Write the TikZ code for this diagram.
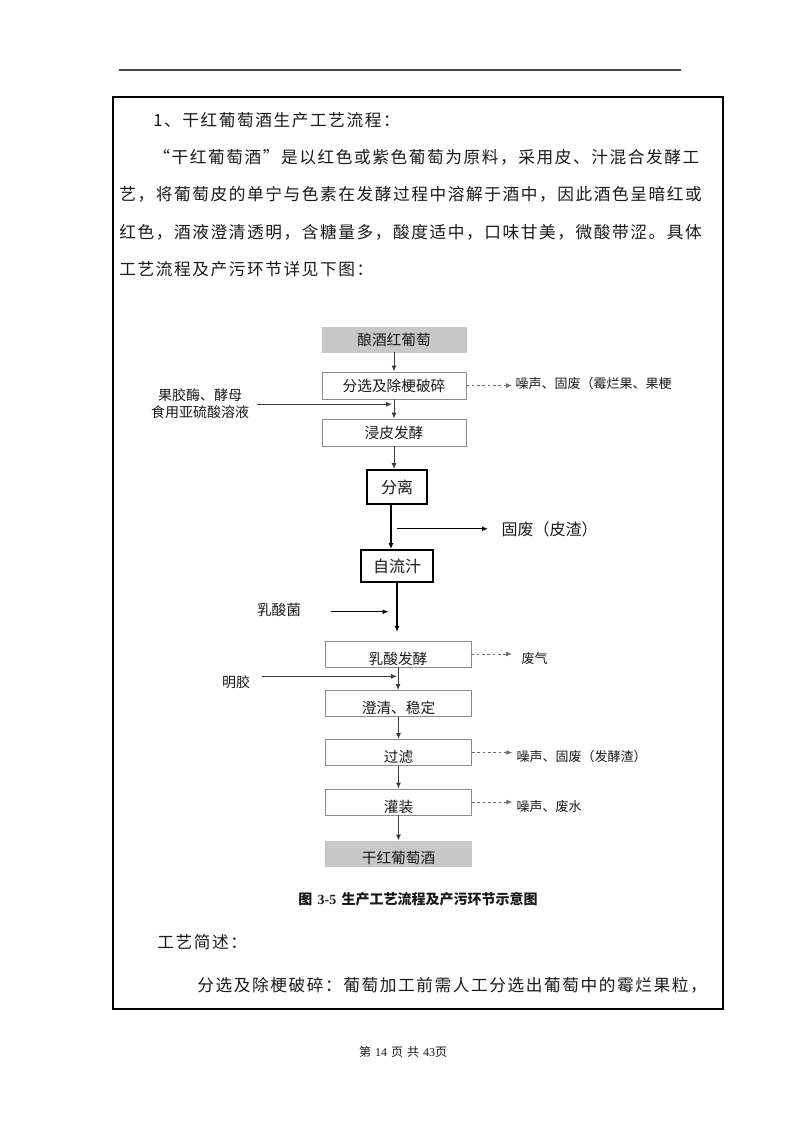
\documentclass[tikz,border=0pt]{standalone}
\usepackage{fontspec}
\setmainfont{Noto Sans CJK SC}
\newfontfamily\wfbody[LetterSpace=9.5]{Noto Sans CJK SC}
\newfontfamily\wfserif{Liberation Serif}
\usetikzlibrary{arrows.meta,positioning}
\definecolor{wfInk}{HTML}{1A1A1A}
\definecolor{wfLine}{HTML}{8C8C8C}
\definecolor{wfArrow}{HTML}{3C3C3C}
\definecolor{wfDash}{HTML}{6E6E6E}
\definecolor{wfShade}{HTML}{C8C8C8}
\tikzset{
  wf page/.style={x=0.75pt, y=-0.75pt, text=wfInk,
    font=\fontsize{12}{14}\selectfont},
  wf step/.style={draw=wfLine, fill=white, line width=0.7pt,
    minimum width=108pt, minimum height=20.25pt, inner sep=0.5pt,
    font=\fontsize{11}{12}\selectfont},
  wf low step/.style={wf step, minimum width=109.5pt, minimum height=19.5pt,
    text height=17.1pt, text depth=1.4pt},
  wf end/.style={draw=wfShade, fill=wfShade},
  wf key/.style={draw=black, fill=white, line width=1.5pt, inner sep=0pt,
    font=\fontsize{12}{14}\selectfont},
  wf arrow/.style={-{Latex[length=4.5pt,width=3.8pt]}, draw=wfArrow, line width=0.7pt},
  wf arrow main/.style={wf arrow, draw=black, line width=1pt},
  wf emit/.style={wf arrow, draw=wfDash, dash pattern=on 2pt off 2pt},
  wf input/.style={font=\fontsize{10.5}{13}\selectfont, align=center, inner sep=2pt},
  wf output/.style={font=\fontsize{9.75}{12}\selectfont, anchor=west, inner sep=1pt},
  wf line/.style={anchor=west, inner sep=0pt, font=\wfbody\fontsize{12.5}{14}\selectfont}
}
\begin{document}
\begin{tikzpicture}[wf page]
\fill[white] (0,0) rectangle (800,1131);
\useasboundingbox (0,0) rectangle (800,1131);
\draw[draw=wfInk!80, line width=0.9pt] (119,70) -- (681,70);
\draw[line width=1.5pt] (113,97) rectangle (723,1009);

% text above the chart
\node[wf line] (p1) at (153,120) {1、干红葡萄酒生产工艺流程：};
\node[wf line] (p2) at (153,157) {“干红葡萄酒”是以红色或紫色葡萄为原料，采用皮、汁混合发酵工};
\node[wf line] (p3) at (119,194) {艺，将葡萄皮的单宁与色素在发酵过程中溶解于酒中，因此酒色呈暗红或};
\node[wf line] (p4) at (119,232) {红色，酒液澄清透明，含糖量多，酸度适中，口味甘美，微酸带涩。具体};
\node[wf line] (p5) at (119,269) {工艺流程及产污环节详见下图：};

% process steps
\node[wf step, wf end, minimum height=18.75pt] (grape) at (394,339.5) {酿酒红葡萄};
\node[wf step] (sort) at (394,385.5) {分选及除梗破碎};
\node[wf step] (macer) at (394,432.5) {浸皮发酵};
\node[wf key, minimum width=45pt, minimum height=25.5pt] (sep) at (397,487) {分离};
\node[wf key, minimum width=54pt, minimum height=24pt] (juice) at (397,566) {自流汁};
\node[wf low step] (mlf) at (398,654) {乳酸发酵};
\node[wf low step] (clar) at (398.5,703.5) {澄清、稳定};
\node[wf low step] (filt) at (398.5,752.5) {过滤};
\node[wf low step] (bottle) at (398.5,802) {灌装};
\node[wf low step, wf end, minimum height=18.75pt, text height=16.4pt] (wine) at (398.5,853.5) {干红葡萄酒};

\draw[wf arrow] (grape) -- (sort);
\draw[wf arrow] (sort) -- (macer);
\draw[wf arrow] (macer.south) -- (macer.south |- sep.north);
\draw[wf arrow main] ([xshift=-4.5pt]sep.south) -- ([xshift=-4.5pt]sep.south |- juice.north);
\draw[wf arrow main, shorten >=6.5pt] (juice.south) -- (juice.south |- mlf.north);
\draw[wf arrow] (mlf.south) -- (mlf.south |- clar.north);
\draw[wf arrow] (clar.south) -- (clar.south |- filt.north);
\draw[wf arrow] (filt) -- (bottle);
\draw[wf arrow] (bottle) -- (wine);

% additions
\node[wf input] (enzyme) at (200,403.5) {果胶酶、酵母\\食用亚硫酸溶液};
\path (sort.south) -- (macer.north) coordinate[pos=.25] (j1);
\draw[wf arrow, shorten <=4pt, shorten >=1.5pt] (enzyme.east |- j1) -- (j1);
\node[wf input, font=\fontsize{11}{13}\selectfont] (lab) at (279,610) {乳酸菌};
\path (juice.south) -- (mlf.north) coordinate[pos=.5] (j2);
\draw[wf arrow main, shorten <=20pt, shorten >=6.75pt] (lab.east |- j2) -- (j2);
\node[wf input] (gel) at (236,682) {明胶};
\path (mlf.south) -- (clar.north) coordinate[pos=.39] (j3);
\draw[wf arrow, shorten <=7pt, shorten >=1pt] (gel.east |- j3) -- (j3);

% wastes
\node[wf output] (noise1) at (514,384) {噪声、固废（霉烂果、果梗};
\draw[wf emit, shorten >=1.5pt] (sort.east) -- (noise1.west |- sort.east);
\path ([xshift=-4.5pt]sep.south) -- ([xshift=-4.5pt]sep.south |- juice.north) coordinate[pos=.54] (j4);
\node[wf output, font=\fontsize{12}{14}\selectfont] (slag) at (500,529) {固废（皮渣）};
\draw[wf arrow main, shorten <=4.5pt, shorten >=9pt] (j4) -- (slag.west |- j4);
\node[wf output] (gas) at (520,659) {废气};
\draw[wf emit, shorten >=6pt] (mlf.east) -- (gas.west |- mlf.east);
\node[wf output] (noise2) at (515,757) {噪声、固废（发酵渣）};
\draw[wf emit, shorten >=2pt] (filt.east) -- (noise2.west |- filt.east);
\node[wf output] (noise3) at (515,806.5) {噪声、废水};
\draw[wf emit, shorten >=2pt] (bottle.east) -- (noise3.west |- bottle.east);

% text below the chart
\node[font=\bfseries\fontsize{10.5}{12}\selectfont] (cap) at (418,899) {图\hspace{4pt}{\wfserif\bfseries 3-5}\hspace{4pt}生产工艺流程及产污环节示意图};
\node[wf line] (p6) at (157,942) {工艺简述：};
\node[wf line] (p7) at (197,985) {分选及除梗破碎：葡萄加工前需人工分选出葡萄中的霉烂果粒，};
\node[font=\fontsize{9}{10}\selectfont] (foot) at (403,1052) {第\hspace{3pt}{\wfserif 14}\hspace{3pt}页\hspace{3pt}共\hspace{3pt}{\wfserif 43}页};
\end{tikzpicture}
\end{document}
